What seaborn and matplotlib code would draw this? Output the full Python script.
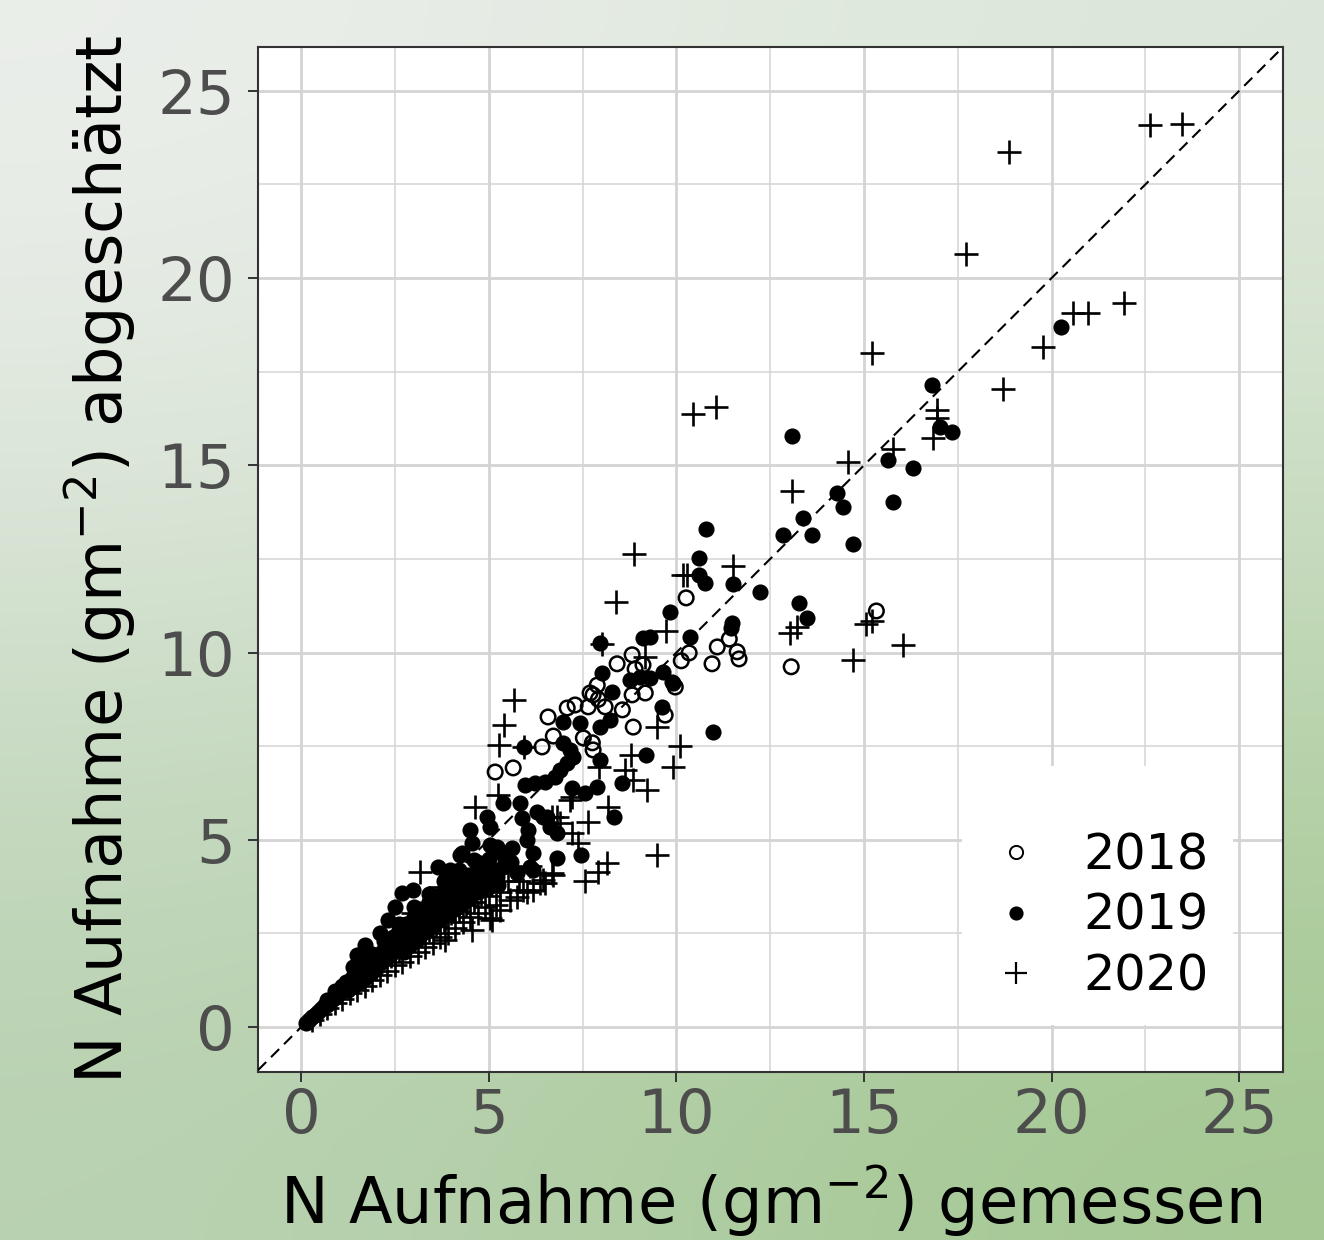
import numpy as np
import pandas as pd
import matplotlib
matplotlib.use("Agg")
import matplotlib.pyplot as plt
import seaborn as sns
from matplotlib.lines import Line2D
from matplotlib.ticker import MultipleLocator

# ---------------- data ----------------
years = ["2018", "2019", "2020"]

x_2018 = [15.33, 13.06, 10.26, 11.41, 11.09, 10.34, 10.13, 10.95, 11.62, 11.67,
          8.82, 8.42, 9.11, 8.90, 9.17, 9.97, 7.89, 7.70, 8.82, 7.78,
          8.10, 8.56, 7.65, 7.30, 7.09, 6.58, 8.85, 9.70, 6.72, 6.42,
          7.52, 7.76, 7.78, 5.17, 5.65, 7.92,
          1.20, 2.00, 2.80, 3.50, 4.20]
y_2018 = [11.11, 9.62, 11.46, 10.36, 10.15, 9.99, 9.78, 9.70, 10.02, 9.83,
          9.94, 9.70, 9.67, 9.56, 8.92, 9.08, 9.13, 8.92, 8.87, 8.87,
          8.55, 8.47, 8.55, 8.60, 8.52, 8.28, 8.01, 8.33, 7.77, 7.48,
          7.72, 7.59, 7.40, 6.81, 6.92, 8.75,
          1.10, 1.80, 2.40, 3.00, 3.60]

x_2019 = [20.26, 16.82, 13.09, 17.03, 17.35, 15.64, 16.31, 15.78, 14.29, 14.45,
          14.71, 13.38, 12.85, 13.62, 10.79, 10.61, 10.61, 10.77, 11.51, 12.23,
          9.83, 10.37, 11.49, 11.46, 13.27, 13.49,
          7.97, 9.11, 9.30, 9.65, 9.91, 8.02, 8.29, 8.77, 9.03, 9.30,
          9.89, 9.62, 10.98, 9.19, 8.56, 7.97, 8.24, 7.44, 6.98, 5.94,
          6.98, 7.17, 7.25, 7.09, 6.90, 7.97, 5.97, 6.24, 6.50, 6.77,
          7.22, 7.57, 7.89, 8.34, 6.29, 6.56, 5.84, 5.38, 4.96, 7.46,
          6.82, 6.45, 6.64, 6.82, 5.89, 6.05, 6.02, 6.18, 5.04, 4.50,
          4.29, 3.65, 3.97, 2.69, 2.99, 5.22, 5.38, 5.76, 6.18, 4.24,
          4.72, 2.51, 2.32, 2.11, 1.71, 1.49, 1.39, 4.56, 5.04, 5.30,
          5.62, 5.44, 4.77, 4.02, 5.22, 6.10, 4.58, 4.16,
          0.12, 0.20, 0.28, 0.36, 0.44, 0.52, 0.60, 0.68, 0.76, 0.84,
          0.92, 1.00, 0.70, 0.90, 1.10,
          1.10, 1.20, 1.25, 1.35, 1.40, 1.50, 1.55, 1.65, 1.70, 1.80,
          1.85, 1.95, 2.00, 1.90, 1.60,
          2.10, 2.15, 2.25, 2.30, 2.40, 2.45, 2.55, 2.60, 2.65, 2.75,
          2.80, 2.85, 2.90, 3.00, 3.00,
          3.10, 3.15, 3.20, 3.30, 3.35, 3.40, 3.50, 3.55, 3.60, 3.70,
          3.75, 3.80, 3.90, 3.95, 4.00,
          4.10, 4.15, 4.20, 4.30, 4.35, 4.45, 4.50, 4.55, 4.65, 4.70,
          4.80, 4.90, 4.95, 5.10, 5.25,
          1.30, 1.50, 1.70, 1.90, 2.10, 2.30, 2.50, 2.70, 2.90, 3.10,
          3.30, 3.50, 3.70, 3.90, 4.10, 4.30, 4.50, 4.70, 4.90, 5.10,
          2.20, 2.60, 3.00, 3.40, 3.80, 4.20, 4.60, 5.00, 5.40, 5.60]
y_2019 = [18.70, 17.15, 15.79, 16.03, 15.89, 15.14, 14.93, 14.02, 14.26, 13.89,
          12.90, 13.60, 13.14, 13.14, 13.30, 12.53, 12.07, 11.86, 11.83, 11.62,
          11.08, 10.42, 10.79, 10.66, 11.32, 10.92,
          10.26, 10.39, 10.42, 9.48, 9.19, 9.45, 8.95, 9.27, 9.35, 9.32,
          9.21, 8.55, 7.88, 7.26, 6.52, 8.01, 8.20, 8.12, 8.15, 7.48,
          7.59, 7.40, 7.21, 7.05, 6.86, 7.13, 6.46, 6.52, 6.54, 6.68,
          6.38, 6.25, 6.41, 5.61, 5.74, 5.61, 5.98, 5.98, 5.61, 4.59,
          4.51, 5.61, 5.34, 5.18, 5.58, 5.26, 4.99, 4.65, 5.34, 5.26,
          4.65, 4.27, 4.19, 3.58, 3.66, 4.81, 4.27, 4.11, 4.19, 4.59,
          4.38, 3.21, 2.86, 2.51, 2.19, 1.92, 1.60, 4.91, 4.86, 4.67,
          4.78, 4.51, 4.38, 3.93, 4.01, 4.27, 3.93, 3.74,
          0.12, 0.20, 0.26, 0.33, 0.40, 0.47, 0.55, 0.60, 0.68, 0.75,
          0.80, 0.90, 0.72, 0.95, 1.10,
          0.95, 1.20, 1.00, 1.30, 1.10, 1.45, 1.20, 1.55, 1.30, 1.65,
          1.45, 1.80, 1.55, 1.95, 1.75,
          1.70, 2.00, 1.85, 2.20, 1.95, 2.40, 2.10, 2.60, 2.30, 2.00,
          2.75, 2.45, 2.20, 2.95, 2.60,
          2.35, 2.80, 3.15, 2.55, 2.95, 3.35, 2.70, 3.10, 3.50, 2.85,
          3.25, 3.65, 3.00, 3.40, 3.80,
          3.15, 3.55, 3.95, 3.30, 3.70, 4.05, 3.45, 3.85, 4.15, 3.60,
          3.95, 4.30, 3.70, 4.05, 3.80,
          1.15, 1.30, 1.45, 1.60, 1.85, 2.00, 2.20, 2.40, 2.60, 2.70,
          2.85, 3.00, 3.15, 3.30, 3.45, 3.60, 3.75, 3.85, 4.00, 4.20,
          2.30, 2.75, 3.20, 3.55, 3.90, 4.20, 4.45, 4.50, 4.60, 4.40]

x_2020 = [22.63, 23.48, 18.87, 17.72, 21.93, 20.58, 20.98, 19.78, 18.71, 15.22,
          10.45, 11.06, 16.95, 16.95, 16.84, 15.78, 14.58, 13.09, 8.87, 11.51,
          10.18, 10.29, 8.40, 13.03, 13.22, 15.22, 15.06, 14.71, 16.04, 9.73,
          8.02, 9.17,
          5.68, 5.41, 5.28, 9.49, 10.10, 9.91, 8.80, 8.64, 8.85, 9.22,
          8.18, 9.49, 7.94, 7.22, 7.65, 7.22, 7.38, 8.16, 7.92, 7.57,
          5.25, 4.64, 6.69, 6.90, 5.94, 7.17, 6.72, 3.17, 5.92, 6.18,
          6.50, 6.69, 6.45, 5.57, 5.30, 5.09, 4.56, 3.70, 2.99, 3.84,
          5.04, 5.76, 6.02, 6.37, 6.82,
          0.30, 0.50, 0.70, 0.90, 1.10, 1.30, 1.50, 1.70, 1.90, 2.10,
          2.30, 2.50, 2.70, 2.90, 3.10, 3.30, 3.50, 3.70, 3.90, 4.10,
          4.30, 4.50, 4.70, 4.90, 2.60, 3.00, 3.40, 3.80, 4.20, 4.60,
          5.00, 5.20, 4.40, 3.60,
          2.00, 2.40, 2.80, 3.20, 3.60, 4.00, 4.40, 4.80, 5.30, 5.50,
          5.80, 6.10]
y_2020 = [24.09, 24.12, 23.37, 20.65, 19.34, 19.07, 19.07, 18.16, 17.04, 18.00,
          16.37, 16.56, 16.48, 16.27, 15.73, 15.44, 15.09, 14.32, 12.63, 12.31,
          12.07, 12.07, 11.35, 10.52, 10.68, 10.84, 10.76, 9.80, 10.20, 10.58,
          10.23, 9.88,
          8.73, 8.07, 7.53, 8.01, 7.51, 6.94, 7.26, 6.86, 6.60, 6.33,
          5.88, 4.59, 6.94, 6.14, 5.48, 5.18, 4.91, 4.38, 4.14, 3.90,
          6.20, 5.88, 5.61, 5.45, 7.48, 6.06, 4.06, 4.14, 3.66, 3.66,
          3.85, 4.11, 3.93, 3.39, 3.13, 2.86, 2.59, 3.74, 3.04, 2.32,
          2.91, 3.47, 3.61, 3.85, 5.61,
          0.20, 0.35, 0.50, 0.65, 0.75, 0.90, 1.00, 1.10, 1.25, 1.40,
          1.50, 1.65, 1.75, 1.90, 2.00, 2.15, 2.25, 2.40, 2.50, 2.65,
          2.80, 2.95, 3.05, 3.20, 2.05, 2.35, 2.60, 2.85, 3.10, 3.35,
          3.50, 3.25, 3.25, 2.70,
          1.60, 1.90, 2.15, 2.45, 2.95, 3.05, 3.50, 3.55, 3.60, 3.90,
          3.90, 4.30]

x_ticks = [0, 5, 10, 15, 20, 25]
y_ticks = [0, 5, 10, 15, 20, 25]
x_label = "N Aufnahme (gm$^{-2}$) gemessen"
y_label = "N Aufnahme (gm$^{-2}$) abgeschätzt"

df = pd.concat([
    pd.DataFrame({"gemessen": x_2018, "geschaetzt": y_2018, "Jahr": "2018"}),
    pd.DataFrame({"gemessen": x_2019, "geschaetzt": y_2019, "Jahr": "2019"}),
    pd.DataFrame({"gemessen": x_2020, "geschaetzt": y_2020, "Jahr": "2020"}),
], ignore_index=True)

# ---------------- figure ----------------
sns.set_style("white")
plt.rcParams["font.family"] = ["DejaVu Sans"]
plt.rcParams["mathtext.fontset"] = "dejavusans"
plt.rcParams["text.color"] = "black"

fig = plt.figure(figsize=(13.24, 12.4), dpi=100)

# soft slide-like background
bg = fig.add_axes([0, 0, 1, 1], zorder=-10)
corners = np.array([[[0.93, 0.94, 0.93], [0.87, 0.91, 0.86]],
                    [[0.72, 0.82, 0.69], [0.64, 0.78, 0.57]]])
bg.imshow(corners, extent=[0, 1, 0, 1], aspect="auto", interpolation="bicubic")
bg.axis("off")

ax = fig.add_axes([0.1949, 0.1355, 0.7742, 0.8266])
ax.set_facecolor("white")

# y = x reference
ax.axline((0, 0), slope=1, color="black", lw=1.5, ls=(0, (5.5, 3.3)), zorder=3)

sns.scatterplot(data=df[df.Jahr == "2018"], x="gemessen", y="geschaetzt",
                marker="o", s=110, facecolor="none", edgecolor="black",
                linewidth=1.8, ax=ax, zorder=2, legend=False)
sns.scatterplot(data=df[df.Jahr == "2019"], x="gemessen", y="geschaetzt",
                marker="o", s=135, color="black", edgecolor="black",
                linewidth=0, ax=ax, zorder=2, legend=False)
sns.scatterplot(data=df[df.Jahr == "2020"], x="gemessen", y="geschaetzt",
                marker="+", s=300, color="black", edgecolor="black",
                linewidth=1.9, ax=ax, zorder=2, legend=False)

ax.set_xlim(-1.15, 26.17)
ax.set_ylim(-1.2, 26.17)
ax.set_xticks(x_ticks)
ax.set_yticks(y_ticks)
ax.xaxis.set_minor_locator(MultipleLocator(2.5))
ax.yaxis.set_minor_locator(MultipleLocator(2.5))
ax.set_axisbelow(True)
ax.grid(which="major", color="#d4d4d4", lw=2.0)
ax.grid(which="minor", color="#d4d4d4", lw=1.1)
ax.tick_params(which="major", direction="out", length=7.5, width=1.4,
               color="#333333", labelsize=44, labelcolor="#4d4d4d",
               bottom=True, left=True)
ax.tick_params(axis="x", which="major", pad=3)
ax.tick_params(axis="y", which="major", pad=9)
ax.tick_params(which="minor", length=0)
for sp in ax.spines.values():
    sp.set_visible(True)
    sp.set_color("#333333")
    sp.set_linewidth(1.5)

ax.set_xlabel(x_label, fontsize=46, color="black", labelpad=13)
ax.set_ylabel(y_label, fontsize=46, color="black", labelpad=14)

handles = [
    Line2D([], [], ls="", marker="o", ms=9.5, mfc="none", mec="black", mew=1.4),
    Line2D([], [], ls="", marker="o", ms=10.2, mfc="black", mec="black", mew=0),
    Line2D([], [], ls="", marker="+", ms=16.5, mec="black", mew=1.6),
]
leg = ax.legend(handles, years, loc="lower right", bbox_to_anchor=(0.951, 0.046),
                frameon=True, facecolor="white", edgecolor="none", framealpha=1,
                fancybox=False, fontsize=35.5, handlelength=1.2, handletextpad=0.75,
                labelspacing=0.25, borderaxespad=0, borderpad=0.5,
                title=" ", title_fontsize=22, labelcolor="black")
leg.set_zorder(5)

fig.savefig("out.png", dpi=100)
